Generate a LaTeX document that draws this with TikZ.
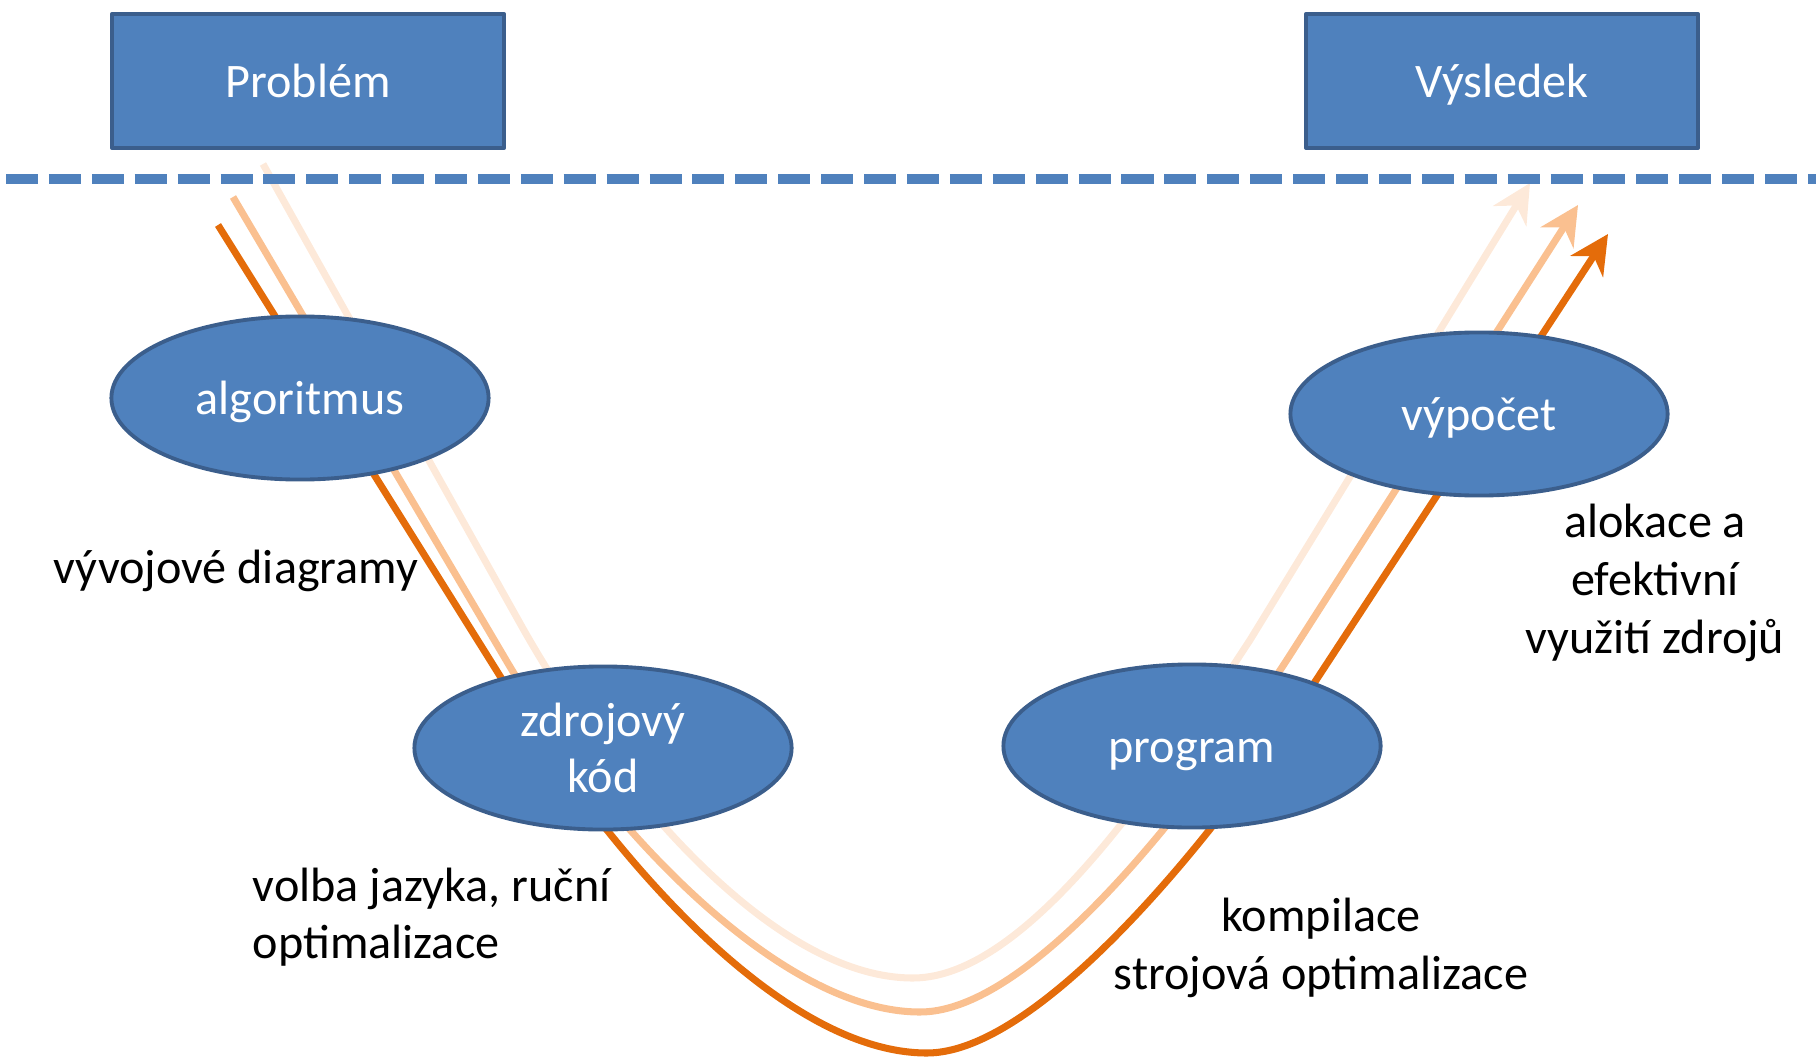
\documentclass[tikz,border=0pt]{standalone}
\usepackage{fontspec}
\setmainfont{Carlito}
\usetikzlibrary{shapes.geometric,arrows.meta}

\definecolor{boxblue}{HTML}{4F81BD}
\definecolor{edgeblue}{HTML}{3B5E8C}
\definecolor{darkorange}{HTML}{E46C0A}
\definecolor{midorange}{HTML}{FAC090}
\definecolor{lightorange}{HTML}{FDE9D9}

\tikzset{
  box/.style={draw=edgeblue, fill=boxblue, line width=1.1pt, line join=round, minimum width=3.92cm, minimum height=1.34cm, text=white, font=\fontsize{13.7}{16.4}\selectfont},
  stage/.style={ellipse, draw=edgeblue, fill=boxblue, line width=1.1pt, minimum width=3.77cm, minimum height=1.63cm, inner sep=0pt, align=center, text=white, font=\fontsize{13.7}{16}\selectfont},
  oneline/.style={text height=12.3pt, text depth=3pt},
  note/.style={inner sep=0pt, align=center, font=\fontsize{13.7}{16.4}\selectfont},
  flow/.style={line width=2pt, -{Stealth[length=11pt, width=11pt, inset=3.5pt]}}
}

\begin{document}
\begin{tikzpicture}[x=0.01cm, y=-0.01cm]
\useasboundingbox (0,0) rectangle (1816,1058);

% start and end points of the three paths
\coordinate (dstart) at (218,225);
\coordinate (mstart) at (233,197);
\coordinate (lstart) at (263,164);
\coordinate (dtip) at (1608,234);
\coordinate (mtip) at (1578,205);
\coordinate (ltip) at (1530,183);

% the three paths, drawn first so the stages cover them
\draw[flow, lightorange] (lstart) -- (521,625) .. controls (609,782) and (770,978) .. (913,978) .. controls (1033,978) and (1173,757) .. (1250,640) -- (ltip);
\draw[flow, midorange] (mstart) -- (506,660) .. controls (597,815) and (775,1012) .. (920,1012) .. controls (1040,1012) and (1214,773) .. (1290,655) -- (mtip);
\draw[flow, darkorange] (dstart) -- (515,700) .. controls (610,853) and (780,1053) .. (927,1053) .. controls (1040,1053) and (1215,833) .. (1290,720) -- (dtip);

% start and goal
\node[box, oneline] (problem) at (308,81) {Problém};
\node[box, oneline] (result) at (1502,81) {Výsledek};

% dashed border
\draw[boxblue, line width=2.8pt, dash pattern=on 9.1pt off 3.1pt] (6,179) -- (1816,179);

% stages
\node[stage, oneline] (algo) at (300,398) {algoritmus};
\node[stage] (source) at (603,748) {zdrojový\\kód};
\node[stage, oneline] (prog) at (1192,746) {program};
\node[stage, oneline] (run) at (1479,414) {výpočet};

% notes
\node[note] (charts) at (236,571) {vývojové diagramy};
\node[note, align=left, anchor=west] (language) at (252,917) {volba jazyka, ruční\\optimalizace};
\node[note] (compile) at (1321,948) {kompilace\\strojová optimalizace};
\node[note] (alloc) at (1655,583) {alokace a\\efektivní\\využití zdrojů};

\end{tikzpicture}
\end{document}
